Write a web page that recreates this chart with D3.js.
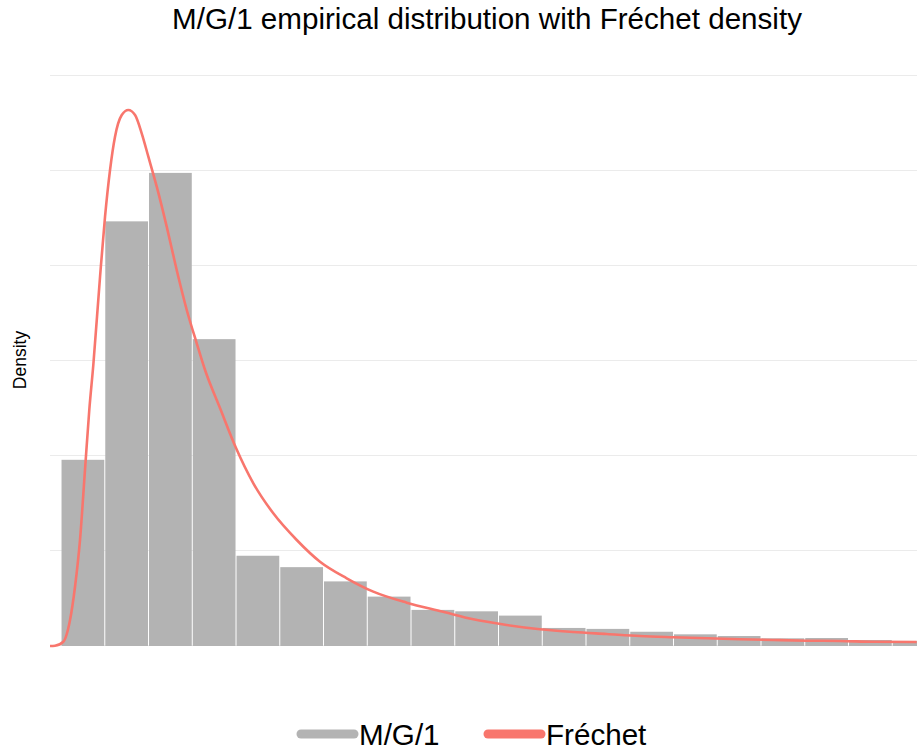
<!DOCTYPE html>
<html>
<head>
<meta charset="utf-8">
<script src="https://cdn.jsdelivr.net/npm/d3@7"></script>
<style>
  body { margin: 0; background: #fff; }
  text { font-family: "Liberation Sans", Arial, sans-serif; fill: #000; }
</style>
</head>
<body>
<div id="chart"></div>
<script>
// histogram bins (left edges, width 0.5) and their densities
var binStarts = [0, 0.5, 1, 1.5, 2, 2.5, 3, 3.5, 4, 4.5, 5, 5.5, 6, 6.5, 7, 7.5, 8, 8.5, 9, 9.5];
var binWidth = 0.5;
var densities = [0.196, 0.447, 0.498, 0.323, 0.095, 0.083, 0.068, 0.052, 0.038, 0.0365,
    0.032, 0.019, 0.018, 0.015, 0.0123, 0.0105, 0.0081, 0.0084, 0.0063, 0.0053];

// Fréchet density
var curveX = [-0.126, -0.069, 0.026, 0.103, 0.16, 0.217, 0.274, 0.323, 0.369, 0.446, 0.503, 0.56,
    0.617, 0.694, 0.769, 0.846, 0.922, 0.998, 1.094, 1.208, 1.322, 1.437, 1.551, 1.646, 1.817,
    2.0, 2.198, 2.426, 2.694, 2.96, 3.265, 3.569, 3.951, 4.366, 4.712, 5.094, 5.474, 5.855,
    6.237, 6.617, 6.998, 7.379, 7.76, 8.141, 8.522, 8.903, 9.283, 9.779];
var curveY = [0, 0.0003, 0.0045, 0.0274, 0.0624, 0.1116, 0.1853, 0.2484, 0.2958, 0.3887, 0.4519, 0.501,
    0.5361, 0.5589, 0.5642, 0.5589, 0.5397, 0.5151, 0.4835, 0.4414, 0.3958, 0.3537, 0.3186, 0.2905, 0.2505,
    0.2084, 0.1713, 0.1397, 0.1116, 0.0887, 0.0713, 0.0572, 0.0456, 0.0361, 0.0281, 0.0221, 0.0176, 0.0147,
    0.0126, 0.0105, 0.0092, 0.0081, 0.0071, 0.0063, 0.0056, 0.0053, 0.0045, 0.0042];

var gridTicks = [0, 0.1, 0.2, 0.3, 0.4, 0.5, 0.6];
var seriesNames = ["M/G/1", "Fréchet"];
var seriesColors = ["#b3b3b3", "#f8766d"];

var width = 917, height = 753;
var margin = { left: 50, right: 0, top: 76, bottom: 107 };

var svg = d3.select("#chart").append("svg")
    .attr("width", width)
    .attr("height", height);

var x = d3.scaleLinear().domain([-0.126, 9.783]).range([margin.left, width - margin.right]);
var y = d3.scaleLinear().domain([0, 0.6]).range([height - margin.bottom, margin.top]);

svg.append("defs").append("clipPath").attr("id", "clip")
    .append("rect")
    .attr("x", margin.left).attr("y", 0)
    .attr("width", width - margin.left - margin.right).attr("height", height);

// horizontal grid
svg.append("g")
    .selectAll("line")
    .data(gridTicks)
    .enter().append("line")
    .attr("x1", margin.left)
    .attr("x2", width - margin.right)
    .attr("y1", function (d) { return Math.round(y(d)) - 0.5; })
    .attr("y2", function (d) { return Math.round(y(d)) - 0.5; })
    .attr("stroke", "#ebebeb")
    .attr("stroke-width", 1);

var bins = binStarts.map(function (s, i) { return { x0: s, x1: s + binWidth, d: densities[i] }; });

var plot = svg.append("g").attr("clip-path", "url(#clip)");

plot.selectAll("rect")
    .data(bins)
    .enter().append("rect")
    .attr("x", function (d) { return x(d.x0) + 0.5; })
    .attr("width", function (d) { return x(d.x1) - x(d.x0) - 1; })
    .attr("y", function (d) { return y(d.d); })
    .attr("height", function (d) { return y(0) - y(d.d); })
    .attr("fill", seriesColors[0]);

var pts = curveX.map(function (v, i) { return [v, curveY[i]]; });

var line = d3.line()
    .x(function (d) { return x(d[0]); })
    .y(function (d) { return y(d[1]); })
    .curve(d3.curveMonotoneX);

plot.append("path")
    .datum(pts)
    .attr("d", line)
    .attr("fill", "none")
    .attr("stroke", seriesColors[1])
    .attr("stroke-width", 2.6);

// title
svg.append("text")
    .attr("x", 487)
    .attr("y", 29)
    .attr("text-anchor", "middle")
    .style("font-size", "29.6px")
    .text("M/G/1 empirical distribution with Fréchet density");

// y label
svg.append("text")
    .attr("transform", "translate(26,360) rotate(-90)")
    .attr("text-anchor", "middle")
    .style("font-size", "17.5px")
    .text("Density");

// legend
var legendX = [297, 484];
var legend = svg.append("g")
    .selectAll("g")
    .data(seriesNames)
    .enter().append("g")
    .attr("transform", function (d, i) { return "translate(" + legendX[i] + ",734)"; });

legend.append("line")
    .attr("x1", 4).attr("x2", 57)
    .attr("y1", 0).attr("y2", 0)
    .attr("stroke", function (d, i) { return seriesColors[i]; })
    .attr("stroke-width", 9)
    .attr("stroke-linecap", "round");

legend.append("text")
    .attr("x", 62)
    .attr("y", 11)
    .style("font-size", "29.6px")
    .text(function (d) { return d; });
</script>
</body>
</html>
